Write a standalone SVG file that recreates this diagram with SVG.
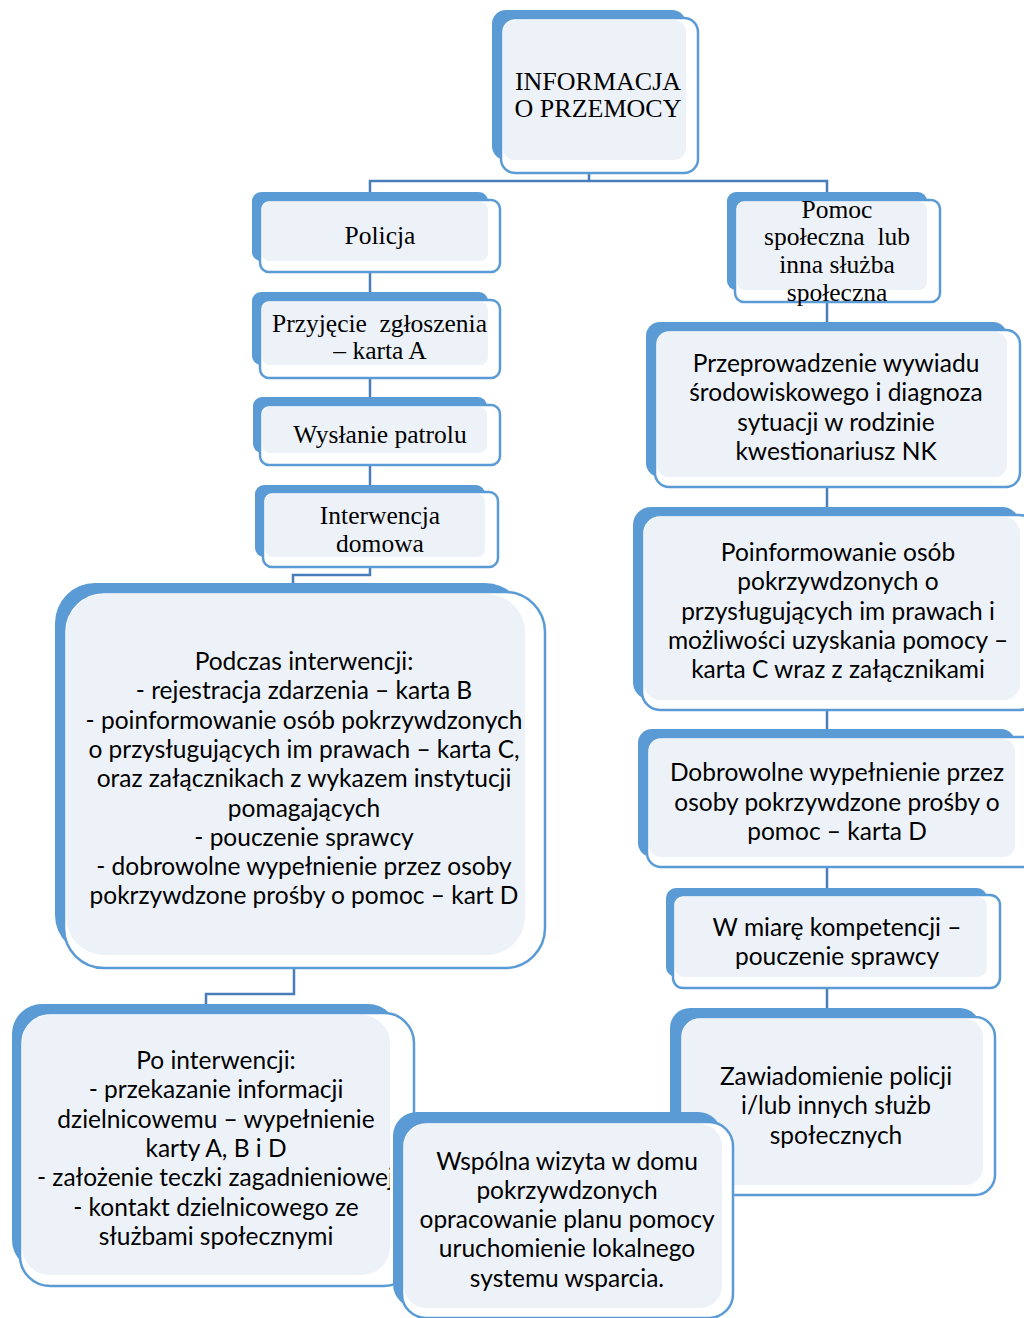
<svg xmlns="http://www.w3.org/2000/svg" width="1024" height="1318" viewBox="0 0 1024 1318">
<style>
.back{fill:#5B9BD5}
.front{fill:#FFFFFF;stroke:#5B9BD5;stroke-width:2.5}
.light{fill:#EDF2F9}
.serif{font-family:"Liberation Serif","Times New Roman",serif;font-size:25.5px;fill:#000;text-anchor:middle}
.sans{font-family:Lato,"Liberation Sans",sans-serif;font-size:24.5px;fill:#000;text-anchor:middle}
.conn{fill:none;stroke:#4A7EBB;stroke-width:2.5}
</style>
<defs>
<clipPath id="clipPo"><rect x="0" y="1000" width="390" height="300"/></clipPath>
</defs>
<rect width="1024" height="1318" fill="#FFFFFF"/>
<g id="connectors">
<path class="conn" d="M589 172 V181 M370 195 V181 H827 V195"/>
<path class="conn" d="M370 272 V300"/>
<path class="conn" d="M370 378 V405"/>
<path class="conn" d="M370 465 V492"/>
<path class="conn" d="M370 567 V575 H293 V592"/>
<path class="conn" d="M294 968 V994 H206 V1013"/>
<path class="conn" d="M827 302 V330"/>
<path class="conn" d="M827 487 V515"/>
<path class="conn" d="M827 710 V737"/>
<path class="conn" d="M827 867 V895"/>
<path class="conn" d="M827 988 V1017"/>
</g>
<g id="n-informacja">
<rect class="back" x="492" y="10" width="194" height="150" rx="14"/>
<rect class="front" x="501" y="18" width="197" height="155" rx="14"/>
<rect class="light" x="503" y="20" width="183" height="140" rx="12"/>
<text class="serif" style="font-size:26px" x="598" y="90">INFORMACJA</text>
<text class="serif" style="font-size:26px" x="598" y="117">O PRZEMOCY</text>
</g>
<g id="n-policja">
<rect class="back" x="252" y="192" width="236" height="69" rx="9"/>
<rect class="front" x="260" y="200" width="240" height="72" rx="9"/>
<rect class="light" x="262" y="202" width="226" height="59" rx="8"/>
<text class="serif" x="380" y="244">Policja</text>
</g>
<g id="n-przyjecie">
<rect class="back" x="252" y="292" width="236" height="73" rx="9"/>
<rect class="front" x="260" y="300" width="240" height="78" rx="9"/>
<rect class="light" x="262" y="302" width="226" height="63" rx="8"/>
<text class="serif" style="text-anchor:start" x="272" y="332">Przyjęcie</text>
<text class="serif" style="text-anchor:end" x="487" y="332">zgłoszenia</text>
<text class="serif" x="380" y="359">– karta A</text>
</g>
<g id="n-wyslanie">
<rect class="back" x="253" y="397" width="234" height="56" rx="9"/>
<rect class="front" x="260" y="405" width="240" height="60" rx="9"/>
<rect class="light" x="262" y="407" width="225" height="46" rx="8"/>
<text class="serif" x="380" y="443">Wysłanie patrolu</text>
</g>
<g id="n-interwencja">
<rect class="back" x="255" y="485" width="230" height="72" rx="9"/>
<rect class="front" x="263" y="492" width="235" height="75" rx="9"/>
<rect class="light" x="265" y="494" width="220" height="63" rx="8"/>
<text class="serif" x="380" y="524">Interwencja</text>
<text class="serif" x="380" y="552">domowa</text>
</g>
<g id="n-podczas">
<rect class="back" x="55" y="583" width="470" height="372" rx="40"/>
<rect class="front" x="64" y="592" width="481" height="376" rx="40"/>
<rect class="light" x="66" y="594" width="459" height="361" rx="38"/>
<text class="sans" x="304" y="670">Podczas interwencji:</text>
<text class="sans" x="304" y="699">- rejestracja zdarzenia – karta B</text>
<text class="sans" x="304" y="729">- poinformowanie osób pokrzywdzonych</text>
<text class="sans" x="304" y="758">o przysługujących im prawach – karta C,</text>
<text class="sans" x="304" y="787">oraz załącznikach z wykazem instytucji</text>
<text class="sans" x="304" y="817">pomagających</text>
<text class="sans" x="304" y="846">- pouczenie sprawcy</text>
<text class="sans" x="304" y="875">- dobrowolne wypełnienie przez osoby</text>
<text class="sans" x="304" y="904">pokrzywdzone prośby o pomoc – kart D</text>
</g>
<g id="n-po">
<rect class="back" x="12" y="1004" width="386" height="266" rx="30"/>
<rect class="front" x="20" y="1013" width="394" height="273" rx="30"/>
<rect class="light" x="22" y="1015" width="368" height="260" rx="28"/>
<g clip-path="url(#clipPo)">
<text class="sans" x="216" y="1069">Po interwencji:</text>
<text class="sans" x="216" y="1098">- przekazanie informacji</text>
<text class="sans" x="216" y="1128">dzielnicowemu – wypełnienie</text>
<text class="sans" x="216" y="1157">karty A, B i D</text>
<text class="sans" style="text-anchor:start" x="37" y="1186">- założenie teczki zagadnieniowej</text>
<text class="sans" x="216" y="1216">- kontakt dzielnicowego ze</text>
<text class="sans" x="216" y="1245">służbami społecznymi</text>
</g>
</g>
<g id="n-pomoc">
<rect class="back" x="727" y="192" width="200" height="98" rx="9"/>
<rect class="front" x="735" y="200" width="205" height="102" rx="9"/>
<rect class="light" x="737" y="202" width="190" height="88" rx="8"/>
<text class="serif" x="837" y="218">Pomoc</text>
<text class="serif" style="text-anchor:start" x="764" y="245">społeczna</text>
<text class="serif" style="text-anchor:end" x="910" y="245">lub</text>
<text class="serif" x="837" y="273">inna służba</text>
<text class="serif" x="837" y="301">społeczna</text>
</g>
<g id="n-przeprowadzenie">
<rect class="back" x="646" y="322" width="361" height="155" rx="14"/>
<rect class="front" x="655" y="330" width="365" height="157" rx="14"/>
<rect class="light" x="657" y="332" width="350" height="145" rx="12"/>
<text class="sans" x="836" y="372">Przeprowadzenie wywiadu</text>
<text class="sans" x="836" y="401">środowiskowego i diagnoza</text>
<text class="sans" x="836" y="431">sytuacji w rodzinie</text>
<text class="sans" x="836" y="460">kwestionariusz NK</text>
</g>
<g id="n-poinformowanie">
<rect class="back" x="633" y="507" width="387" height="193" rx="18"/>
<rect class="front" x="642" y="515" width="395" height="195" rx="18"/>
<rect class="light" x="644" y="517" width="376" height="183" rx="16"/>
<text class="sans" x="838" y="561">Poinformowanie osób</text>
<text class="sans" x="838" y="590">pokrzywdzonych o</text>
<text class="sans" x="838" y="620">przysługujących im prawach i</text>
<text class="sans" x="838" y="649">możliwości uzyskania pomocy –</text>
<text class="sans" x="838" y="678">karta C wraz z załącznikami</text>
</g>
<g id="n-dobrowolne">
<rect class="back" x="638" y="729" width="377" height="128" rx="14"/>
<rect class="front" x="647" y="737" width="390" height="130" rx="14"/>
<rect class="light" x="649" y="739" width="366" height="118" rx="12"/>
<text class="sans" x="837" y="781">Dobrowolne wypełnienie przez</text>
<text class="sans" x="837" y="811">osoby pokrzywdzone prośby o</text>
<text class="sans" x="837" y="840">pomoc – karta D</text>
</g>
<g id="n-wmiare">
<rect class="back" x="666" y="888" width="321" height="89" rx="10"/>
<rect class="front" x="673" y="895" width="327" height="93" rx="10"/>
<rect class="light" x="675" y="897" width="312" height="80" rx="9"/>
<text class="sans" x="837" y="936">W miarę kompetencji –</text>
<text class="sans" x="837" y="965">pouczenie sprawcy</text>
</g>
<g id="n-zawiadomienie">
<rect class="back" x="670" y="1008" width="310" height="177" rx="20"/>
<rect class="front" x="680" y="1017" width="315" height="178" rx="20"/>
<rect class="light" x="682" y="1019" width="301" height="166" rx="18"/>
<text class="sans" x="836" y="1085">Zawiadomienie policji</text>
<text class="sans" x="836" y="1114">i/lub innych służb</text>
<text class="sans" x="836" y="1144">społecznych</text>
</g>
<g id="n-wspolna">
<rect class="back" x="393" y="1112" width="329" height="196" rx="24"/>
<rect class="front" x="402" y="1122" width="331" height="196" rx="24"/>
<rect class="light" x="404" y="1124" width="318" height="184" rx="22"/>
<text class="sans" x="567" y="1170">Wspólna wizyta w domu</text>
<text class="sans" x="567" y="1199">pokrzywdzonych</text>
<text class="sans" x="567" y="1228">opracowanie planu pomocy</text>
<text class="sans" x="567" y="1257">uruchomienie lokalnego</text>
<text class="sans" x="567" y="1287">systemu wsparcia.</text>
</g>
</svg>
